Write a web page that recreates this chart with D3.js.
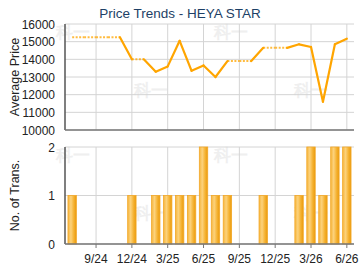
<!DOCTYPE html>
<html>
<head>
<meta charset="utf-8">
<script src="https://cdnjs.cloudflare.com/ajax/libs/d3/7.8.5/d3.min.js"></script>
<style>
  body { margin: 0; background: #fff; }
  text { font-family: "Liberation Sans", Arial, sans-serif; }
</style>
</head>
<body>
<div id="chart"></div>
<script>
// months from 7/24 to 6/26
const months = ["7/24","8/24","9/24","10/24","11/24","12/24","1/25","2/25","3/25","4/25","5/25","6/25",
  "7/25","8/25","9/25","10/25","11/25","12/25","1/26","2/26","3/26","4/26","5/26","6/26"];
// average price per month (carried forward where there was no deal)
const prices = [15250,15250,15250,15250,15250,14000,14000,13300,13600,15050,13350,13650,
  13000,13900,13900,13900,14650,14650,14650,14850,14700,11600,14850,15170];
const counts = [1,0,0,0,0,1,0,1,1,1,1,2,1,1,0,0,1,0,0,1,2,1,2,2];
const tickLabels = ["9/24","12/24","3/25","6/25","9/25","12/25","3/26","6/26"];
const priceTicks = [10000,11000,12000,13000,14000,15000,16000];
const countTicks = [0,1,2];

const W = 360, H = 270;
const left = 65, right = 354;
const orange = "#ffa500";

const svg = d3.select("#chart").append("svg")
  .attr("width", W).attr("height", H);

const defs = svg.append("defs");
const grad = defs.append("linearGradient").attr("id", "barGrad")
  .attr("x1", "0%").attr("x2", "100%").attr("y1", "0%").attr("y2", "0%");
grad.append("stop").attr("offset", "0%").attr("stop-color", "#f6b53c");
grad.append("stop").attr("offset", "35%").attr("stop-color", "#fcd27c");
grad.append("stop").attr("offset", "70%").attr("stop-color", "#f5b232");
grad.append("stop").attr("offset", "100%").attr("stop-color", "#e99a0c");

const x = d3.scaleLinear().domain([-0.6, months.length - 0.4]).range([left, right]);
const tickIdx = tickLabels.map(t => months.indexOf(t));

// watermarks
const addMarks = (g, y0) => {
  [[56, y0 + 14], [214, y0 + 14], [134, y0 + 72], [294, y0 + 72]].forEach(p => {
    g.append("text").attr("x", p[0]).attr("y", p[1])
      .attr("font-size", 17).attr("font-weight", "bold")
      .attr("fill", "#efefef").attr("font-family", "'Noto Sans CJK SC', sans-serif")
      .text("科一");
  });
};

// ---- price chart ----
const yP = d3.scaleLinear().domain([10000, 16000]).range([130, 24]);
const priceG = svg.append("g");
addMarks(priceG, 24);

priceG.selectAll("line.hgrid").data(priceTicks).enter().append("line")
  .attr("class", "hgrid")
  .attr("x1", left).attr("x2", right)
  .attr("y1", d => yP(d)).attr("y2", d => yP(d))
  .attr("stroke", "#d4d4d4");
priceG.selectAll("line.vgrid").data(tickIdx).enter().append("line")
  .attr("class", "vgrid")
  .attr("x1", d => x(d)).attr("x2", d => x(d))
  .attr("y1", yP(16000)).attr("y2", yP(10000))
  .attr("stroke", "#d4d4d4");

priceG.selectAll("text.ytick").data(priceTicks).enter().append("text")
  .attr("class", "ytick")
  .attr("x", 55).attr("y", d => yP(d) + 4.5)
  .attr("text-anchor", "end").attr("font-size", 12).attr("fill", "#222")
  .text(d => d);

priceG.append("line").attr("x1", left).attr("x2", left)
  .attr("y1", yP(16000)).attr("y2", yP(10000)).attr("stroke", "#555").attr("stroke-width", 1.5);
priceG.append("line").attr("x1", left).attr("x2", right)
  .attr("y1", yP(10000)).attr("y2", yP(10000)).attr("stroke", "#777").attr("stroke-width", 1.5);

priceG.append("text")
  .attr("transform", `translate(19,${(yP(16000) + yP(10000)) / 2}) rotate(-90)`)
  .attr("text-anchor", "middle").attr("font-size", 12.5).attr("fill", "#222")
  .text("Average Price");

priceG.append("text").attr("x", 180).attr("y", 18)
  .attr("text-anchor", "middle").attr("font-size", 13.5).attr("fill", "#1d3f66")
  .text("Price Trends - HEYA STAR");

// segments: solid when the month has deals, dotted when carried forward
const line = d3.line().x(d => x(d.i)).y(d => yP(d.v));
for (let i = 1; i < prices.length; i++) {
  const seg = [{ i: i - 1, v: prices[i - 1] }, { i: i, v: prices[i] }];
  const real = counts[i] > 0;
  priceG.append("path")
    .attr("d", line(seg))
    .attr("fill", "none")
    .attr("stroke", orange)
    .attr("stroke-width", real ? 2.2 : 2)
    .attr("stroke-linecap", real ? "round" : "butt")
    .attr("stroke-linejoin", "round")
    .attr("stroke-dasharray", real ? null : "2,1.5")
    .attr("opacity", real ? 1 : 0.75);
}

// ---- transactions chart ----
const yC = d3.scaleLinear().domain([0, 2]).range([244, 147]);
const countG = svg.append("g");
addMarks(countG, 147);

countG.selectAll("line.hgrid").data(countTicks).enter().append("line")
  .attr("class", "hgrid")
  .attr("x1", left).attr("x2", right)
  .attr("y1", d => yC(d)).attr("y2", d => yC(d))
  .attr("stroke", "#d4d4d4");
countG.selectAll("line.vgrid").data(tickIdx).enter().append("line")
  .attr("class", "vgrid")
  .attr("x1", d => x(d)).attr("x2", d => x(d))
  .attr("y1", yC(2)).attr("y2", yC(0))
  .attr("stroke", "#d4d4d4");

const bw = 8.4;
countG.selectAll("rect.bar").data(counts.map((c, i) => ({ c, i })).filter(d => d.c > 0))
  .enter().append("rect")
  .attr("class", "bar")
  .attr("x", d => x(d.i) - bw / 2)
  .attr("y", d => yC(d.c))
  .attr("width", bw)
  .attr("height", d => yC(0) - yC(d.c))
  .attr("fill", "url(#barGrad)")
  .attr("stroke", "#f3a828").attr("stroke-width", 0.8);

countG.selectAll("text.ytick").data(countTicks).enter().append("text")
  .attr("class", "ytick")
  .attr("x", 55).attr("y", d => yC(d) + 4.5)
  .attr("text-anchor", "end").attr("font-size", 12).attr("fill", "#222")
  .text(d => d);

countG.append("line").attr("x1", left).attr("x2", left)
  .attr("y1", yC(2)).attr("y2", yC(0)).attr("stroke", "#555").attr("stroke-width", 1.5);
countG.append("line").attr("x1", left).attr("x2", right)
  .attr("y1", yC(0)).attr("y2", yC(0)).attr("stroke", "#777").attr("stroke-width", 1.5);

countG.selectAll("line.xtick").data(tickIdx).enter().append("line")
  .attr("class", "xtick")
  .attr("x1", d => x(d)).attr("x2", d => x(d))
  .attr("y1", yC(0)).attr("y2", yC(0) + 4)
  .attr("stroke", "#777");
countG.selectAll("text.xtick").data(tickIdx).enter().append("text")
  .attr("class", "xtick")
  .attr("x", d => x(d)).attr("y", 263)
  .attr("text-anchor", "middle").attr("font-size", 12).attr("fill", "#222")
  .text((d, k) => tickLabels[k]);

countG.append("text")
  .attr("transform", `translate(19,${(yC(2) + yC(0)) / 2}) rotate(-90)`)
  .attr("text-anchor", "middle").attr("font-size", 12.5).attr("fill", "#222")
  .text("No. of Trans.");
</script>
</body>
</html>
